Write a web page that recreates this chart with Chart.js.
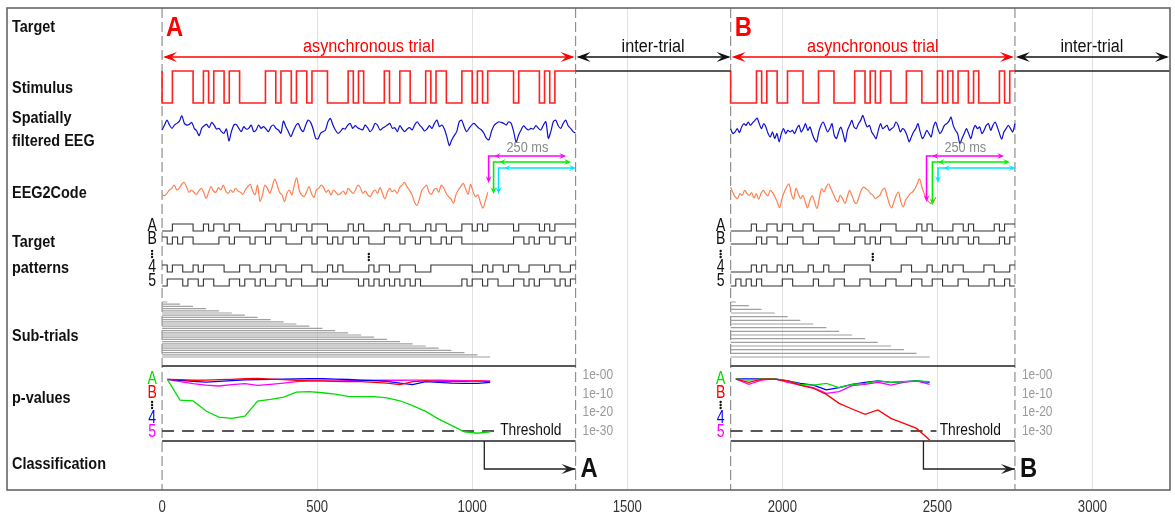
<!DOCTYPE html>
<html>
<head>
<meta charset="utf-8">
<script src="https://cdn.jsdelivr.net/npm/chart.js@4.4.0/dist/chart.umd.min.js"></script>
<style>
  html, body { margin: 0; padding: 0; background: #fff; }
</style>
</head>
<body>
<canvas id="timeline" width="1175" height="523"></canvas>
<script>
// ---- time axis (ms) ----
const tickValues = [0, 500, 1000, 1500, 2000, 2500, 3000];
const trialStart = [0, 1833.3];
const trialEnd = [1333.3, 2750];
const trialTarget = ['A', 'B'];
const trialResult = ['A', 'B'];
const classifiedAt = [1039, 2455];
const BIT_MS = 1000 / 60;

// ---- stimulus bit sequences (60 Hz) ----
const stimA = ['0011110010', '1101100000', '1101101101', '1100001010',
               '0001001100', '0101100011', '0101111101', '1110101111'].join('');
const stimB = ['0000010110', '0111000111', '0000110101', '1000111000',
               '1010110100', '00101'].join('');

// ---- target patterns shown for each trial (A, B, 4, 5) ----
const patA_A = stimA;
const patA_B = ['1010110000', '0110111011', '0111000110', '1101011011',
                '0001110110', '1100101100', '0000000011', '0101101101'].join('');
const patA_4 = ['1011001011', '1100011001', '1011000110', '0010100000',
                '1011001110', '0011111111', '0010110110', '0111011001'].join('');
const patA_5 = ['0111011011', '0001101101', '0011011000', '1011111101',
                '0101010101', '0000000010', '1101100011', '0101110101'].join('');
const patB_A = ['0000100110', '1100110000', '0110010001', '1100001010',
                '0001101000', '01011'].join('');
const patB_B = stimB;
const patB_4 = ['0000101001', '0100010010', '0011111000', '0001100010',
                '0101100001', '10001'].join('');
const patB_5 = ['0101010000', '1100001000', '1100011000', '1100011001',
                '1000110000', '10010'].join('');
const patternNames = ['A', 'B', '4', '5'];

// ---- spatially filtered EEG (arbitrary units) ----
const eegA = [-1.0,0.5,2.0,0.5,-0.5,0.5,1.0,1.7,3.3,1.0,0.5,0.7,1.3,-0.5,-1.3,-2.7,-0.5,0.3,0.7,-0.3,
  1.3,0.5,-0.7,-0.5,-1.5,-2.0,-0.7,-4.3,-1.5,0.5,0.7,-0.5,-1.5,0,-0.7,-0.5,0.5,-1.5,-1.0,0.5,
  -0.5,0,-0.7,-1.5,0,0.5,-0.5,-1.0,-2.0,1.7,0,-1.5,-3.0,-1.3,0.3,1.0,-0.7,-1.5,0.5,2.0,
  1.3,-0.7,-3.5,-3.7,-2.0,-1.5,-1.0,1.5,2.5,0.5,-1.0,-2.0,-1.5,-0.5,-0.7,0.5,1.0,-0.5,0.3,-0.3,
  -0.7,-1.0,0.5,-0.3,-1.5,-0.7,1.0,0.5,-1.0,-0.5,0,0.5,1.0,-0.5,-0.3,-1.5,0.3,-0.7,-1.5,-0.7,
  -0.3,-1.0,0.5,1.5,0.5,-0.3,-1.3,-0.7,0.3,-0.5,1.0,2.0,0,0.5,-0.7,-3.0,-5.7,-4.0,-2.7,-1.5,
  1.5,2.0,0,-1.5,-0.5,0.5,1.0,0.3,-0.5,-1.0,-2.0,-3.5,-4.0,-1.5,0.3,1.0,1.5,1.3,1.0,0.5,
  1.5,1.0,-1.5,-4.7,-2.5,-1.0,0.3,-0.5,-1.0,-0.5,-0.7,0.3,-0.5,-1.0,0.5,1.5,-3.5,-1.5,1.5,2.0,
  0.3,-0.5,1.0,2.0,0.3,-0.5,-1.5,-2.0];
const eegB = [0.5,-1.0,-0.5,0.5,-0.7,1.0,2.0,1.5,2.5,1.5,2.3,3.0,3.7,2.0,0.5,2.0,1.0,-1.0,-2.0,-0.5,
  -2.5,-1.0,-3.5,-1.0,0.5,-1.0,0,-0.5,0,-1.0,0.5,1.5,-0.5,0.5,2.0,0,1.0,-1.0,-2.7,-3.5,
  -0.5,1.5,2.5,1.0,-0.5,0.5,2.0,-1.5,-2.5,-0.5,1.0,-1.0,-3.5,0,1.5,3.0,1.0,0.5,2.0,3.0,
  4.5,2.5,1.0,1.5,-0.5,-1.5,-2.5,0,2.0,0.5,1.0,1.5,0,0.5,1.0,2.5,1.5,-0.5,0.5,0,
  -1.5,-3.5,-2.0,-0.5,0.5,2.0,-0.5,-2.5,-1.5,0,-1.0,-2.0,1.0,2.5,0.5,-1.0,0,1.5,2.0,2.7,
  4.0,1.5,0,-1.0,-4.0,-2.5,-1.0,0.5,-1.0,-2.5,0,1.5,0.5,1.0,-1.0,0,1.5,2.0,0,1.5,
  2.5,1.0,-1.0,-2.7,-0.5,0.5,1.5,0.5,-0.5,2.0];

// ---- EEG2Code prediction ----
const codeA = [-1.5,-1.7,-1.0,0,0.5,1.5,0,0.5,1.7,2.3,1.0,-0.7,0,-0.7,-1.3,-0.3,0.5,-0.7,-2.5,-0.7,
  1.0,-0.3,-0.7,0.7,0,1.5,-0.3,-1.0,0,-0.7,0.5,-0.3,-0.7,-1.3,0,1.0,1.7,-0.3,-1.5,1.5,
  -3.5,-1.5,1.5,0.5,-1.0,1.0,3.3,1.5,-0.7,-1.5,-3.5,-1.0,0,-1.5,1.5,3.7,0,-1.5,-2.0,-0.7,
  1.0,-1.0,-2.3,0,0.5,1.5,0.7,-0.7,0,-1.5,0,-0.7,-1.5,-1.0,-0.3,-1.3,0.5,-0.3,-1.0,0,
  1.5,0.7,-1.0,-0.3,-1.5,-2.0,-0.7,0,-1.0,0.7,-1.0,-2.7,-0.7,0.5,-0.5,0,-1.0,0.7,1.5,2.3,
  1.0,0,-1.3,-3.5,-4.7,-3.0,-0.3,0.7,1.5,-0.7,-1.3,0,0.5,-0.7,1.5,0.7,-1.0,-2.0,-2.7,-4.0,
  -1.5,0,1.0,2.0,0.3,-1.3,1.7,-0.5,-2.0,-1.5,-3.7,-5.5,-3.5,-0.7];
const codeB = [2.5,0.8,-0.5,-1.0,0.5,0,1.5,0.5,0,0.8,-0.8,0.5,-1.2,0.5,1.5,0.5,-0.2,1.5,0.8,-0.5,
  -2.0,-3.8,-1.0,1.0,2.5,3.5,0.5,-1.2,2.2,0.5,-1.0,0,-2.0,-3.8,-1.5,-0.2,-2.0,-4.0,-1.0,2.0,
  1.0,2.5,3.5,2.0,0.5,-1.2,-2.0,0,-1.0,-2.5,-0.5,1.5,0,-2.0,-2.5,-0.5,1.5,2.5,2.0,1.5,
  0.5,0,-1.0,-0.5,0,1.5,2.2,0,-2.5,-3.8,-2.0,0,1.0,-2.0,-3.5,-1.5,-0.5,0.5,1.0,2.0,
  3.5,5.0,2.5,0.5,-1.0,-2.0,-2.5,-2.0,-0.5];

// ---- sub-trial end times (ms) ----
const subEndsA = [17, 58, 100, 142, 183, 225, 267, 308, 350, 392, 433, 475, 517,
                  558, 600, 642, 683, 725, 767, 808, 850, 892, 933, 975, 1017, 1058];
const subEndsB = [1850, 1892, 1933, 1975, 2017, 2058, 2100, 2142, 2183, 2225, 2267,
                  2308, 2350, 2392, 2433, 2475];

// ---- log10 p-values per sub-trial ----
const pA_A = [-2.3,-13.5,-13.9,-19.3,-22.6,-23.2,-22.0,-14.0,-13.0,-11.8,-9.2,-8.9,-9.5,
              -10.2,-11.4,-11.6,-11.6,-12.2,-13.8,-16.4,-19.5,-23.6,-27.0,-30.4,-31.2,-30.4];
const pA_B = [-2.3,-2.5,-2.8,-2.7,-2.5,-2.3,-2.0,-1.8,-2.2,-2.5,-2.8,-3.2,-3.2,
              -3.4,-3.6,-3.6,-3.9,-4.4,-5.2,-3.5,-3.2,-3.4,-3.6,-3.4,-3.2,-3.6];
const pA_4 = [-2.3,-2.8,-3.4,-3.8,-3.4,-3.0,-2.6,-2.5,-2.3,-2.2,-2.1,-2.0,-2.0,
              -2.2,-2.4,-2.7,-3.0,-3.4,-4.4,-5.2,-3.6,-4.0,-4.4,-4.5,-4.5,-4.0];
const pA_5 = [-2.3,-3.6,-4.6,-5.4,-5.9,-5.2,-4.6,-5.6,-5.0,-4.3,-3.6,-3.2,-3.2,
              -3.2,-3.0,-2.9,-2.8,-2.8,-2.8,-2.7,-2.7,-2.8,-2.9,-3.0,-3.1,-3.2];
const pB_A = [-2.1,-2.7,-2.1,-2.1,-3.2,-5.0,-5.4,-4.5,-6.8,-5.0,-4.5,-3.2,-3.9,-3.6,-3.2,-3.6];
const pB_B = [-2.2,-3.9,-2.2,-2.2,-3.2,-5.4,-7.1,-10.4,-15.2,-18.2,-21.1,-18.7,-23.2,-25.9,-28.6,-34.8];
const pB_4 = [-2.1,-2.1,-2.1,-2.1,-3.2,-4.5,-5.4,-8.0,-6.8,-5.0,-3.9,-3.2,-3.9,-3.6,-3.2,-3.9];
const pB_5 = [-2.1,-5.0,-2.7,-2.1,-3.9,-5.4,-6.8,-9.8,-8.9,-5.7,-5.0,-3.9,-5.4,-3.9,-3.2,-5.0];
const pThreshold = -30;
const pTickLevels = [0, -10, -20, -30];
const pTickLabels = ['1e-00', '1e-10', '1e-20', '1e-30'];

// ---- 250 ms decoding windows ----
const delayStartA = [1053, 1069, 1085];
const delayStartB = [2465, 2484, 2502];
const DELAY = 250;

// ---- layout (y values are canvas pixels, the y scale runs 8..490) ----
const TOP = 8, BOTTOM = 490;
const STIM_HI = 71, STIM_LO = 103;
const EEG_MID = [126.7, 130.3];
const CODE_MID = [190, 195.3];
const GAIN = 3.3;
const PAT_HI = [224, 237, 265, 279], PAT_H = 7;
const SUB_TOP = 302, SUB_BOTTOM = 357;
const SEP1 = 366, SEP2 = 441;
const P0 = 375, PSCALE = 1.867;
const CLASS_Y = 469;
const DELAY_Y = [156, 162, 168];
const DELAY_DROP = [[183, 194, 194], [202, 205, 183]];

const P_COLORS = ['#00dd00', '#ff0000', '#0000ff', '#ff00ff'];
const DELAY_COLORS = ['#ff00ff', '#00ee00', '#00e5ff'];

const datasets = [];
function addLine(points, color, width, extra) {
  datasets.push(Object.assign({
    data: points, borderColor: color, borderWidth: width,
    pointRadius: 0, fill: false, order: 1
  }, extra || {}));
}

function stepPoints(bits, t0, hi, h, lead) {
  const pts = lead ? [{x: t0, y: hi}] : [];
  for (let k = 0; k < bits.length; k++) {
    pts.push({x: t0 + k * BIT_MS, y: bits[k] === '1' ? hi : hi + h});
  }
  pts.push({x: t0 + bits.length * BIT_MS, y: bits[bits.length - 1] === '1' ? hi : hi + h});
  return pts;
}

function tracePoints(vals, t0, t1, mid) {
  return vals.map((v, i) => ({x: t0 + (t1 - t0) * i / (vals.length - 1), y: mid - GAIN * v}));
}

const pY = v => P0 - PSCALE * v;

// trial boundaries
[trialStart[0], trialEnd[0], trialStart[1], trialEnd[1]].forEach(t => {
  addLine([{x: t, y: TOP}, {x: t, y: BOTTOM}], '#8f8f8f', 1.2, {borderDash: [10, 4], order: 5});
});

const stims = [stimA, stimB];
const patterns = [[patA_A, patA_B, patA_4, patA_5], [patB_A, patB_B, patB_4, patB_5]];
const eegs = [eegA, eegB];
const codes = [codeA, codeB];
const codeEnds = [1050, 2495];
const subEnds = [subEndsA, subEndsB];
const pvals = [[pA_A, pA_B, pA_4, pA_5], [pB_A, pB_B, pB_4, pB_5]];

for (let i = 0; i < 2; i++) {
  const t0 = trialStart[i], t1 = trialEnd[i];
  const next = i === 0 ? trialStart[1] : 3250;

  // stimulus and the idle line after the trial
  addLine(stepPoints(stims[i], t0, STIM_HI, STIM_LO - STIM_HI, true), '#ff2020', 1.6, {stepped: true});
  addLine([{x: t1, y: STIM_HI}, {x: next, y: STIM_HI}], '#222', 1.3);

  // EEG and EEG2Code traces
  addLine(tracePoints(eegs[i], t0, t1, EEG_MID[i]), '#1010d0', 1.2, {tension: 0.25});
  addLine(tracePoints(codes[i], t0, codeEnds[i], CODE_MID[i]), '#ff7f50', 1.2, {cubicInterpolationMode: 'monotone'});

  // target patterns
  patterns[i].forEach((bits, r) => {
    addLine(stepPoints(bits, t0, PAT_HI[r], PAT_H, false), '#333', 1.1, {stepped: true});
  });

  // sub-trials
  const ends = subEnds[i];
  const bars = [];
  ends.forEach((e, k) => {
    const y = SUB_TOP + (SUB_BOTTOM - SUB_TOP) * k / (ends.length - 1);
    bars.push({x: t0, y: y}, {x: e, y: y}, {x: e, y: null});
  });
  addLine(bars, '#a0a0a0', 1.2, {spanGaps: false});

  // separators
  addLine([{x: t0, y: SEP1}, {x: t1, y: SEP1}], '#222', 1.4);
  addLine([{x: t0, y: SEP2}, {x: t1, y: SEP2}], '#222', 1.4);

  // threshold
  const last = ends[ends.length - 1];
  addLine([{x: t0, y: pY(pThreshold)}, {x: last + 22, y: pY(pThreshold)}], '#222', 1.3, {borderDash: [12, 8]});

  // p-values (target A, B, 4, 5)
  pvals[i].forEach((vals, r) => {
    addLine(vals.map((v, k) => ({x: ends[k], y: pY(v)})), P_COLORS[r], 1.3, {order: r === i ? 0 : 1});
  });

  // classification arrow
  addLine([{x: classifiedAt[i], y: SEP2}, {x: classifiedAt[i], y: CLASS_Y}, {x: t1, y: CLASS_Y}], '#222', 1.3);
}

// ---- drawing helpers ----
function label(ctx, str, x, y, font, color, align, sx) {
  ctx.save();
  ctx.font = font;
  ctx.fillStyle = color;
  ctx.textAlign = align || 'left';
  ctx.textBaseline = 'middle';
  ctx.translate(x, y);
  ctx.scale(sx || 0.85, 1);
  ctx.fillText(str, 0, 0);
  ctx.restore();
}

function head(ctx, x, y, ang, len, half, color) {
  ctx.save();
  ctx.translate(x, y);
  ctx.rotate(ang);
  ctx.fillStyle = color;
  ctx.beginPath();
  ctx.moveTo(0, 0);
  ctx.lineTo(-len, -half);
  ctx.lineTo(-len * 0.6, 0);
  ctx.lineTo(-len, half);
  ctx.closePath();
  ctx.fill();
  ctx.restore();
}

function span(ctx, x0, x1, y, color, len, half, width) {
  ctx.save();
  ctx.strokeStyle = color;
  ctx.lineWidth = width || 1.5;
  ctx.beginPath();
  ctx.moveTo(x0 + 2, y);
  ctx.lineTo(x1 - 2, y);
  ctx.stroke();
  ctx.restore();
  head(ctx, x0, y, Math.PI, len, half, color);
  head(ctx, x1, y, 0, len, half, color);
}

function vdots(ctx, x, y, color) {
  ctx.save();
  ctx.fillStyle = color;
  [-3, 0, 3].forEach(d => {
    ctx.beginPath();
    ctx.arc(x, y + d, 1.2, 0, Math.PI * 2);
    ctx.fill();
  });
  ctx.restore();
}

const rowLabels = [
  ['Target', 27], ['Stimulus', 88], ['Spatially', 118], ['filtered EEG', 141],
  ['EEG2Code', 193], ['Target', 242], ['patterns', 268], ['Sub-trials', 336],
  ['p-values', 398], ['Classification', 464]
];
const PAT_LABEL_Y = [226, 239, 267, 281];
const P_LABEL_Y = [379, 393, 418, 432];

const overlay = {
  id: 'overlay',
  afterDatasetsDraw(chart) {
    const {ctx, chartArea: a, scales: {x, y}} = chart;
    const px = v => x.getPixelForValue(v);
    const py = v => y.getPixelForValue(v);

    // frame
    ctx.save();
    ctx.strokeStyle = '#666';
    ctx.lineWidth = 1.6;
    ctx.strokeRect(a.left, a.top, a.right - a.left, a.bottom - a.top);
    ctx.restore();

    rowLabels.forEach(([s, yy]) => label(ctx, s, 12, yy, 'bold 17px "Liberation Sans", Arial, sans-serif', '#111', 'left', 0.85));

    tickValues.forEach(v => label(ctx, String(v), px(v), 508, '16px "Liberation Sans", Arial, sans-serif', '#333', 'center', 0.82));

    for (let i = 0; i < 2; i++) {
      const x0 = px(trialStart[i]), x1 = px(trialEnd[i]);
      const xn = i === 0 ? px(trialStart[1]) : a.right - 1;

      label(ctx, trialTarget[i], x0 + 4, py(29), 'bold 27px "Liberation Sans", Arial, sans-serif', '#ff0000', 'left', 0.88);
      label(ctx, 'asynchronous trial', (x0 + x1) / 2, py(47), '18px "Liberation Sans", Arial, sans-serif', '#ff0000', 'center', 0.9);
      span(ctx, x0 + 1, x1 - 1, py(57), '#ff0000', 14, 5);
      label(ctx, 'inter-trial', (x1 + xn) / 2, py(47), '18px "Liberation Sans", Arial, sans-serif', '#111', 'center', 0.9);
      span(ctx, x1 + 1, xn, py(57), '#111', 14, 5);

      // 250 ms windows
      const starts = i === 0 ? delayStartA : delayStartB;
      starts.forEach((s, k) => {
        const sx = px(s), ex = px(s + DELAY), yy = py(DELAY_Y[k]);
        const col = DELAY_COLORS[k];
        ctx.save();
        ctx.strokeStyle = col;
        ctx.lineWidth = 1.6;
        ctx.beginPath();
        ctx.moveTo(sx, py(DELAY_DROP[i][k]) - 3);
        ctx.lineTo(sx, yy);
        ctx.lineTo(ex - 2, yy);
        ctx.stroke();
        ctx.restore();
        head(ctx, ex, yy, 0, 7, 3, col);
        head(ctx, sx + 6, yy, Math.PI, 6, 3, col);
        head(ctx, sx, py(DELAY_DROP[i][k]), Math.PI / 2, 7, 3, col);
      });
      label(ctx, '250 ms', px(starts[0] + DELAY / 2), py(148), '15px "Liberation Sans", Arial, sans-serif', '#888', 'center', 0.85);

      // pattern names and p-value names
      const lx = x0 - 10;
      patternNames.forEach((n, r) => {
        label(ctx, n, lx, py(PAT_LABEL_Y[r]), '19px "Liberation Sans", Arial, sans-serif', '#111', 'center', 0.74);
        label(ctx, n, lx, py(P_LABEL_Y[r]), '19px "Liberation Sans", Arial, sans-serif', P_COLORS[r], 'center', 0.74);
      });
      vdots(ctx, lx, py(254), '#111');
      vdots(ctx, lx, py(405), '#111');
      vdots(ctx, (x0 + x1) / 2, py(257), '#111');

      // p-value scale and threshold text
      pTickLevels.forEach((lv, k) => {
        label(ctx, pTickLabels[k], x1 + 7, py(pY(lv)), '14px "Liberation Sans", Arial, sans-serif', '#999', 'left', 0.85);
      });
      const last = subEnds[i][subEnds[i].length - 1];
      label(ctx, 'Threshold', px(last) + 10, py(pY(pThreshold)), '16px "Liberation Sans", Arial, sans-serif', '#111', 'left', 0.86);

      // classification result
      head(ctx, x1, py(CLASS_Y), 0, 14, 5, '#222');
      label(ctx, trialResult[i], x1 + 5, py(CLASS_Y + 1), 'bold 27px "Liberation Sans", Arial, sans-serif', '#111', 'left', 0.88);
    }
  }
};

new Chart(document.getElementById('timeline'), {
  type: 'line',
  data: {datasets: datasets},
  options: {
    responsive: false,
    animation: false,
    devicePixelRatio: 1,
    events: [],
    layout: {padding: {left: 7, right: 5, top: TOP, bottom: 523 - BOTTOM}},
    plugins: {legend: {display: false}, tooltip: {enabled: false}},
    elements: {point: {radius: 0}},
    scales: {
      x: {
        type: 'linear', min: -500, max: 3250,
        afterBuildTicks: scale => { scale.ticks = tickValues.map(v => ({value: v})); },
        ticks: {display: false},
        grid: {
          drawTicks: false,
          color: c => (c.tick && c.tick.value > 0) ? '#e2e2e2' : 'rgba(0,0,0,0)'
        },
        border: {display: false}
      },
      y: {type: 'linear', min: TOP, max: BOTTOM, reverse: true, display: false}
    }
  },
  plugins: [overlay]
});
</script>
</body>
</html>
